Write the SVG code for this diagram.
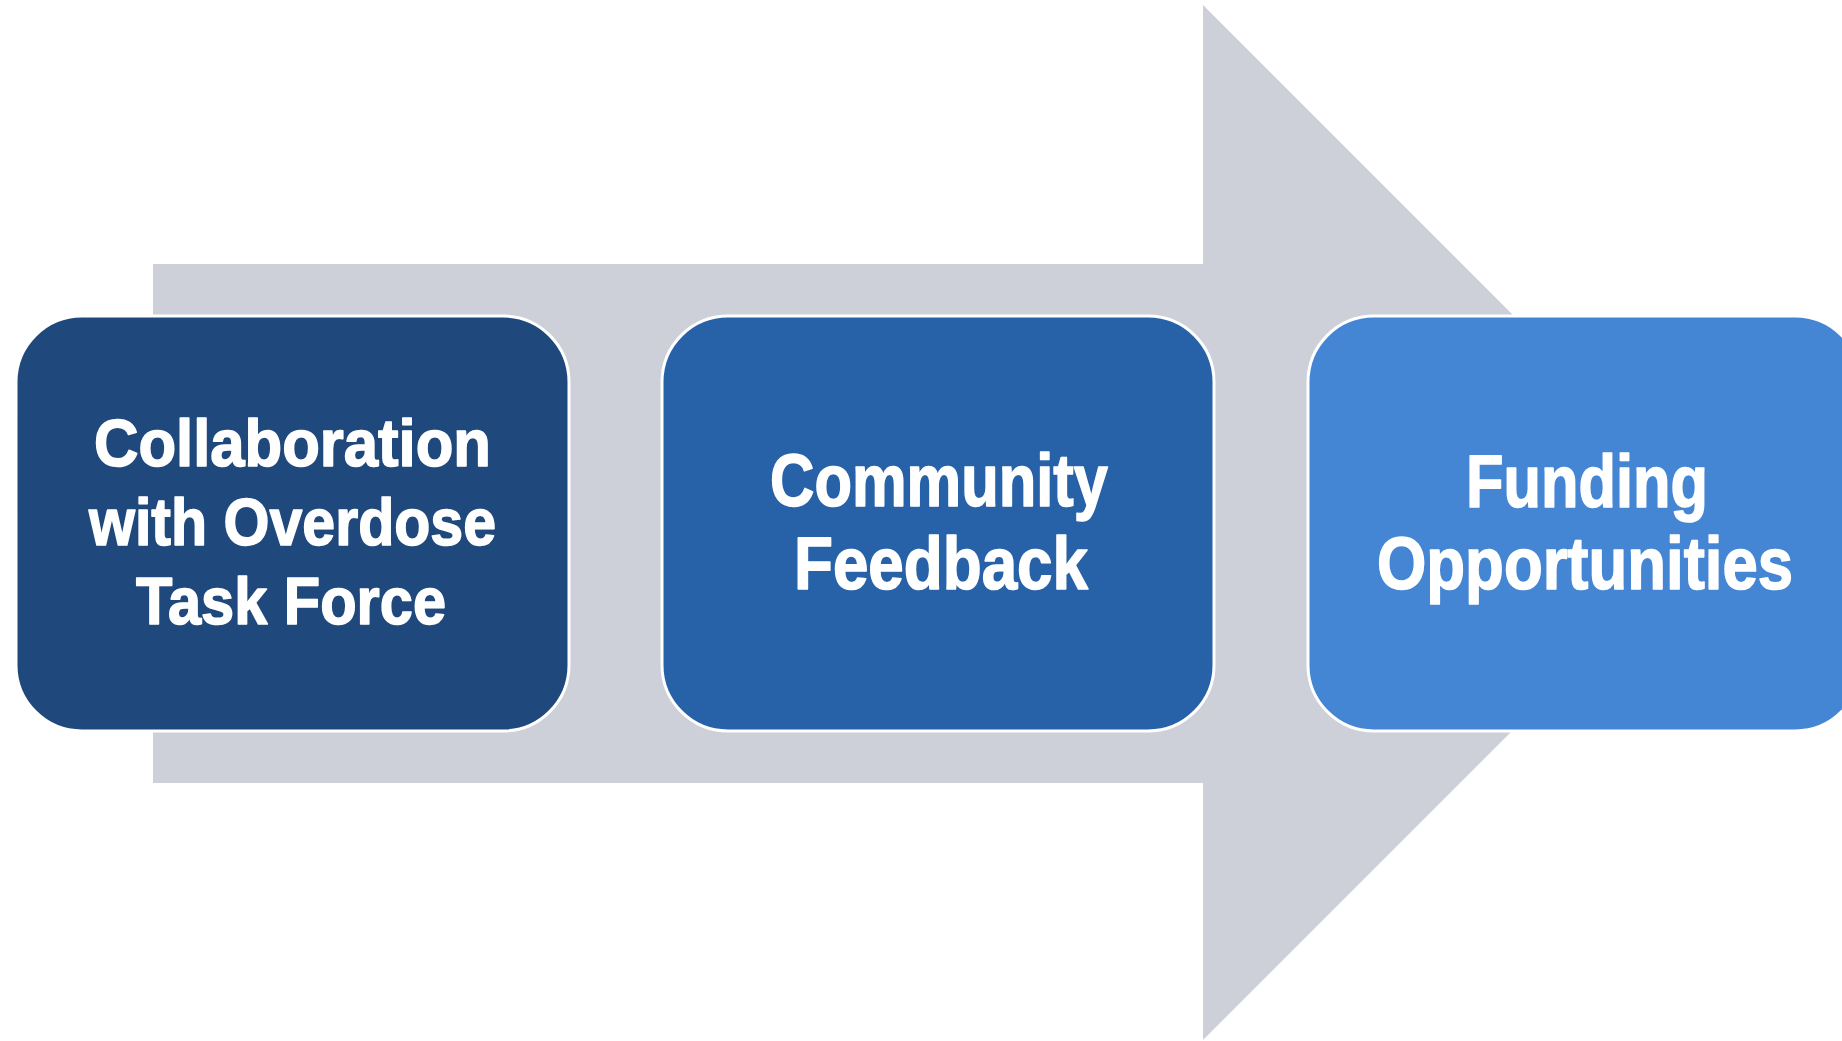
<svg xmlns="http://www.w3.org/2000/svg" width="1842" height="1041" viewBox="0 0 1842 1041">
  <style>
    .box { stroke: #ffffff; stroke-width: 3; }
    .lbl { font-family: "Liberation Sans", Arial, sans-serif; font-weight: bold; fill: #ffffff; stroke: #ffffff; stroke-width: 1.6; stroke-linejoin: round; text-anchor: middle; }
    .s1 { font-size: 67px; }
    .s2 { font-size: 74px; }
  </style>
  <rect x="0" y="0" width="1842" height="1041" fill="#ffffff"/>
  <g id="connectors">
    <polygon id="arrow" points="153,264 1203,264 1203,5 1720.5,522.5 1203,1040 1203,783 153,783" fill="#cdd0d9"/>
  </g>
  <g id="node1">
    <rect class="box" x="16" y="316" width="553" height="415" rx="66" ry="66" fill="#1f497d"/>
    <text class="lbl s1" x="292.5" y="466" textLength="397" lengthAdjust="spacingAndGlyphs">Collaboration</text>
    <text class="lbl s1" x="292.5" y="545" textLength="407" lengthAdjust="spacingAndGlyphs">with Overdose</text>
    <text class="lbl s1" x="291" y="624" textLength="310" lengthAdjust="spacingAndGlyphs">Task Force</text>
  </g>
  <g id="node2">
    <rect class="box" x="662" y="316" width="552" height="415" rx="66" ry="66" fill="#2762a8"/>
    <text class="lbl s2" x="939" y="506" textLength="338" lengthAdjust="spacingAndGlyphs">Community</text>
    <text class="lbl s2" x="941" y="589" textLength="294" lengthAdjust="spacingAndGlyphs">Feedback</text>
  </g>
  <g id="node3">
    <rect class="box" x="1308" y="316" width="553" height="415" rx="66" ry="66" fill="#4485d4"/>
    <text class="lbl s2" x="1587" y="507" textLength="242" lengthAdjust="spacingAndGlyphs">Funding</text>
    <text class="lbl s2" x="1585" y="589" textLength="416" lengthAdjust="spacingAndGlyphs">Opportunities</text>
  </g>
</svg>
